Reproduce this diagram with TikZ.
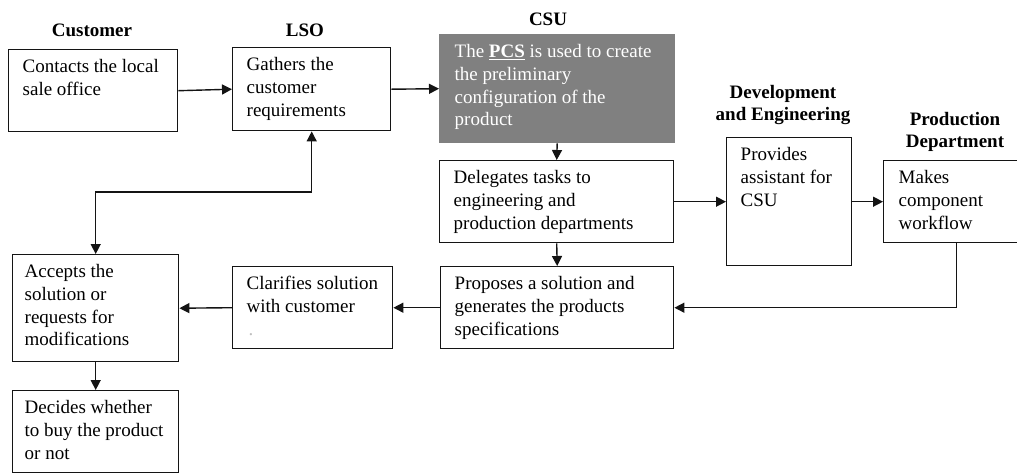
\documentclass[tikz,border=0pt]{standalone}
\usepackage{fontspec}
\setmainfont{Liberation Serif}
\usetikzlibrary{arrows.meta}

% fixed-size cell: width, height, text; first baseline 23pt below the top edge
\newcommand{\cellbody}[4][14pt]{\parbox[t][#3][t]{#2}{\raggedright\leftskip=#1\relax\rule{0pt}{23pt}#4}}

\definecolor{boxgray}{HTML}{808080}
\definecolor{inkline}{HTML}{141414}

\begin{document}
\begin{tikzpicture}[x=1pt, y=-1pt,
  txt/.style={font=\fontsize{19}{22.7}\selectfont},
  stepbox/.style={txt, draw=inkline, line width=1.4pt, inner sep=0pt, anchor=north west},
  graybox/.style={txt, fill=boxgray, draw=boxgray, line width=1.4pt, inner sep=0pt, anchor=north west, text=white},
  head/.style={font=\fontsize{19}{21.5}\selectfont\bfseries, align=center, inner sep=0pt},
  tip/.tip={Triangle[length=10pt,width=10pt]},
  arr/.style={draw=inkline, line width=1.4pt, -tip},
  biarr/.style={draw=inkline, line width=1.4pt, tip-tip}
]
\clip (0,0) rectangle (1017,472);
\fill[white] (0,0) rectangle (1017,472);

% column headings
\node[head] (hcust) at (92,30) {Customer};
\node[head] (hlso)  at (305,30) {LSO};
\node[head] (hcsu)  at (548,19) {CSU};
\node[head] (hdev)  at (783,105) {Development\\and Engineering};
\node[head] (hprod) at (955,132) {Production\\Department};

% process steps
\node[stepbox] (cust)  at (8,49)    {\cellbody{169pt}{82pt}{Contacts the local\\sale office}};
\node[stepbox] (lso)   at (232,47)  {\cellbody{158pt}{83pt}{Gathers the\\customer\\requirements}};
\node[graybox] (pcs)   at (439,34)  {\cellbody[15pt]{235pt}{108pt}{The \underline{\textbf{PCS}} is used to create\\the preliminary\\configuration of the\\product}};
\node[stepbox] (deleg) at (439,160) {\cellbody{234pt}{82pt}{Delegates tasks to\\engineering and\\production departments}};
\node[stepbox] (dev)   at (726,137) {\cellbody{125pt}{128pt}{Provides\\assistant for\\CSU}};
\node[stepbox] (prod)  at (883,160) {\cellbody[15pt]{146pt}{82pt}{Makes\\component\\workflow}};
\node[stepbox] (prop)  at (440,266) {\cellbody{233pt}{82pt}{Proposes a solution and\\generates the products\\specifications}};
\node[stepbox] (clar)  at (232,266) {\cellbody{160pt}{82pt}{Clarifies solution\\with customer\\\hspace*{2pt}{\color{black!25}.}}};
\node[stepbox] (acc)   at (12,254)  {\cellbody[12pt]{166pt}{107pt}{Accepts the\\solution or\\requests for\\modifications}};
\node[stepbox] (dec)   at (12,390)  {\cellbody[12pt]{166pt}{82pt}{Decides whether\\to buy the product\\or not}};

% flow
\draw[arr] (cust.east) -- (lso.west);
\draw[arr] (lso.east) -- (pcs.west);
\draw[arr] (pcs.south) -- (deleg.north);
\draw[arr] (deleg.east) -- (dev.west);
\draw[arr] (dev.east) -- (prod.west);
\draw[arr] (prod.south) |- (prop.east);
\draw[arr] (deleg.south) -- (prop.north);
\draw[arr] (prop.west) -- (clar.east);
\draw[arr] (clar.west) -- (acc.east);
\draw[arr] (acc.south) -- (dec.north);
\coordinate (loop) at (311,192);
\draw[biarr] (lso.south) |- (loop) -| (acc.north);
\end{tikzpicture}
\end{document}
